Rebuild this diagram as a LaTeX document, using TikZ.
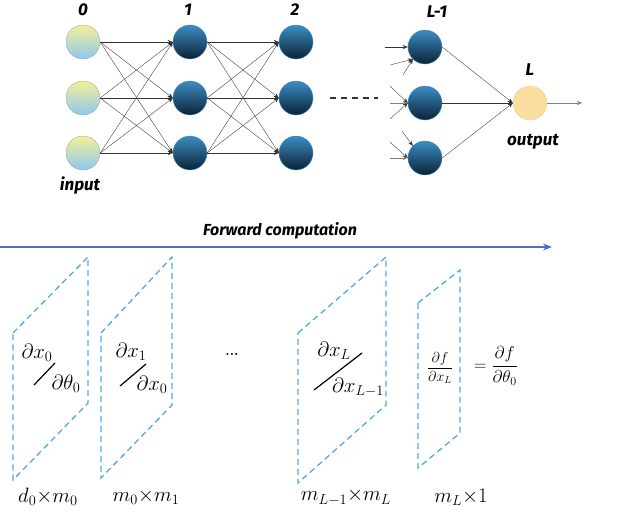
\documentclass[tikz,border=0pt]{standalone}
\usepackage{fontspec}
\newfontfamily\hand{Fira Sans}
\usetikzlibrary{arrows.meta}
\definecolor{arrblue}{RGB}{68,114,196}
\definecolor{dashblue}{RGB}{80,170,230}
\begin{document}
\begin{tikzpicture}[x=1pt,y=-1pt,
  hid/.style={circle,minimum size=34pt,inner sep=0pt,top color={rgb,255:red,60;green,140;blue,195},bottom color={rgb,255:red,10;green,35;blue,55},draw={rgb,255:red,60;green,140;blue,195},line width=0.4pt},
  inp/.style={circle,minimum size=34pt,inner sep=0pt,top color={rgb,255:red,245;green,240;blue,150},bottom color={rgb,255:red,140;green,200;blue,240},draw=gray!70},
  outn/.style={circle,minimum size=34pt,inner sep=0pt,fill={rgb,255:red,250;green,222;blue,160},draw={rgb,255:red,245;green,215;blue,150}},
  lab/.style={font=\hand\bfseries\itshape\fontsize{17}{19}\selectfont},
  con/.style={-{Stealth[length=5pt,width=4pt]},line width=0.35pt,black!80},
  par/.style={dashblue,line width=1.3pt,dash pattern=on 6pt off 4pt},
  frac/.style={font=\fontsize{20}{22}\selectfont,inner sep=0pt},
  bar/.style={line width=1.2pt},
  dim/.style={font=\fontsize{20}{22}\selectfont}]
\useasboundingbox (0,0) rectangle (622,514);
% layers
\foreach \i/\y in {1/42,2/98,3/153}{
  \node[inp] (a\i) at (83,\y) {};
  \node[hid] (b\i) at (190,\y) {};
  \node[hid] (c\i) at (296,\y) {};
  \node[hid] (d\i) at (425,\y+5) {};
}
\node[outn] (o) at (530,103) {};
\foreach \i in {1,2,3}{\foreach \j in {1,2,3}{
  \draw[con] (a\i.east) -- (b\j.west);
  \draw[con] (b\i.east) -- (c\j.west);}
  \draw[con] (d\i.east) -- (o.west);}
\coordinate (oe) at (582,103);
\draw[con,gray] (o.east) -- (oe);
% incoming stubs for L-1
\coordinate (p1) at (385,47); \coordinate (p2) at (390,65); \coordinate (p3) at (403,75);
\draw[con] (p1) -- (d1.west); \draw[con] (p2) -- (d1.south west); \draw[con] (p3) -- (d1.south west);
\coordinate (q1) at (390,86); \coordinate (q2) at (390,103); \coordinate (q3) at (390,119);
\draw[con] (q1) -- (d2.west); \draw[con,gray] (q2) -- (d2.west); \draw[con] (q3) -- (d2.west);
\coordinate (r1) at (402,131); \coordinate (r2) at (390,142); \coordinate (r3) at (390,158);
\draw[con] (r1) -- (d3.north west); \draw[con] (r2) -- (d3.west); \draw[con,gray] (r3) -- (d3.west);
\coordinate (dd1) at (330,98); \coordinate (dd2) at (378,98);
\draw[line width=2pt,dash pattern=on 6pt off 5pt,black!80] (dd1) -- (dd2);
% labels
\node[lab] (l0) at (83,10) {0};
\node[lab] (l1) at (188,10) {1};
\node[lab] (l2) at (295,10) {2};
\node[lab] (l3) at (437,12) {L-1};
\node[lab] (l4) at (530,70) {L};
\node[lab] (lin) at (80,186) {input};
\node[lab] (lout) at (533,142) {output};
% forward arrow
\node[lab,font=\hand\bfseries\itshape\fontsize{16}{18}\selectfont] (fw) at (280,231) {Forward computation};
\coordinate (f1) at (0,247); \coordinate (f2) at (552,247);
\draw[arrblue,line width=1.3pt,-{Stealth[length=9pt,width=7pt]}] (f1) -- (f2);
% parallelograms
\draw[par] (13,333) -- (88,257) -- (88,403) -- (13,480) -- cycle;
\draw[par] (101,333) -- (172,257) -- (172,405) -- (101,478) -- cycle;
\draw[par] (298,333) -- (386,257) -- (386,405) -- (298,483) -- cycle;
\draw[par] (418,303) -- (460,270) -- (460,433) -- (418,468) -- cycle;
% slanted fractions
\node[frac] (n0) at (37,353) {$\partial x_0$};
\node[frac] (e0) at (66,384) {$\partial \theta_0$};
\coordinate (b0a) at (34,385); \coordinate (b0b) at (55,363);
\draw[bar] (b0a) -- (b0b);
\node[frac] (n1) at (131,352) {$\partial x_1$};
\node[frac] (e1) at (152,385) {$\partial x_0$};
\coordinate (b1a) at (120,386); \coordinate (b1b) at (146,364);
\draw[bar] (b1a) -- (b1b);
\node[frac] (n2) at (334,351) {$\partial x_L$};
\node[frac] (e2) at (358,387) {$\partial x_{L-1}$};
\coordinate (b2a) at (314,390); \coordinate (b2b) at (362,353);
\draw[bar] (b2a) -- (b2b);
\node[font=\fontsize{14}{16}\selectfont] (j3) at (440,368) {$\displaystyle\frac{\partial f}{\partial x_L}$};
\node[font=\fontsize{18}{20}\selectfont,anchor=west,inner sep=0pt] (eq) at (474,366) {$=\displaystyle\frac{\partial f}{\partial \theta_0}$};
\node[font=\bfseries\fontsize{14}{16}\selectfont] (dots) at (232,354) {...};
\node[dim] (m0) at (48,497) {$d_0{\times}m_0$};
\node[dim] (m1) at (146,497) {$m_0{\times}m_1$};
\node[dim] (m2) at (346,497) {$m_{L-1}{\times}m_L$};
\node[dim] (m3) at (461,497) {$m_L{\times}1$};
\end{tikzpicture}
\end{document}
